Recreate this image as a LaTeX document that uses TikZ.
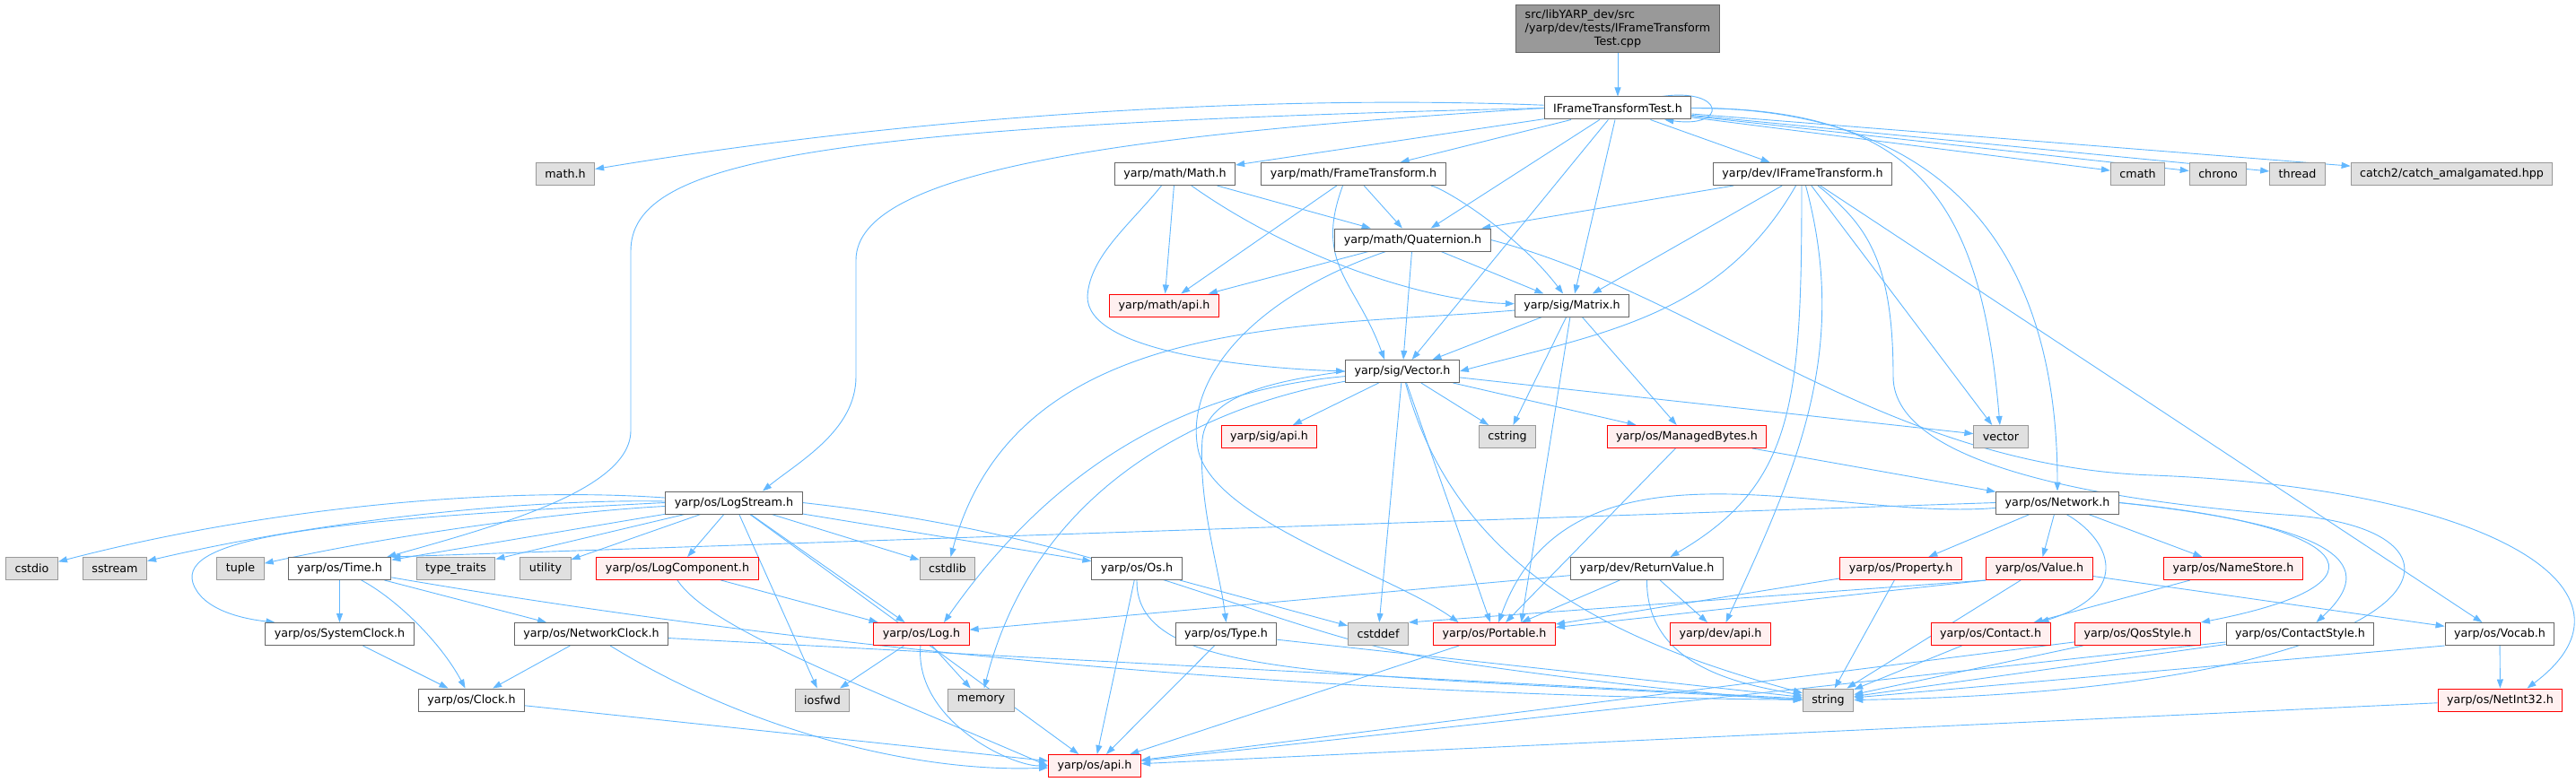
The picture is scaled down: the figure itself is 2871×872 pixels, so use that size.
\documentclass[tikz,border=0pt]{standalone}
\usepackage{fontspec}
\setmainfont{DejaVu Sans}
\usetikzlibrary{arrows.meta}
\pgfdeclarelayer{background}
\pgfsetlayers{background,main}
\definecolor{edgeblue}{HTML}{63B8FF}
\definecolor{redfill}{HTML}{FFF0F0}
\definecolor{sysfill}{HTML}{E0E0E0}
\definecolor{sysline}{HTML}{999999}
\definecolor{fileline}{HTML}{666666}
\definecolor{rootfill}{HTML}{999999}

\begin{document}
\begin{tikzpicture}[x=1pt,y=1pt,>={Triangle[length=10pt,width=7pt]},
    every node/.style={font=\fontsize{12.7}{15}\selectfont,minimum height=25pt,
      inner xsep=10pt,inner ysep=2pt,line width=1pt},
    file/.style={draw=fileline,fill=white},
    redfile/.style={draw=red,fill=redfill},
    sysfile/.style={draw=sysline,fill=sysfill},
    rootfile/.style={draw=fileline,fill=rootfill,inner ysep=4pt},
    dep/.style={draw=edgeblue,line width=0.9pt,->},
    every edge/.style={dep}]
  \useasboundingbox (0,0) rectangle (2871,-872);

  \node[rootfile] (src)     at (1803,-32.5)  {\begin{tabular}{@{}l@{}}src/libYARP\_dev/src\\/yarp/dev/tests/IFrameTransform\\\multicolumn{1}{@{}c@{}}{Test.cpp}\end{tabular}};
  \node[file]     (ift)     at (1803,-120.5) {IFrameTransformTest.h};
  \node[sysfile]  (mathh)   at (630,-194)    {math.h};
  \node[file]     (mmath)   at (1309.5,-194) {yarp/math/Math.h};
  \node[file]     (frame)   at (1508.5,-194) {yarp/math/FrameTransform.h};
  \node[file]     (dift)    at (2009,-194)   {yarp/dev/IFrameTransform.h};
  \node[sysfile]  (cmath)   at (2382.5,-194) {cmath};
  \node[sysfile]  (chrono)  at (2472,-194)   {chrono};
  \node[sysfile]  (thread)  at (2560.5,-194) {thread};
  \node[sysfile]  (catch)   at (2732.5,-194) {catch2/catch\_amalgamated.hpp};
  \node[file]     (quat)    at (1574.5,-267.5) {yarp/math/Quaternion.h};
  \node[redfile]  (mapi)    at (1297.5,-340.5) {yarp/math/api.h};
  \node[file]     (matrix)  at (1752,-340.5)   {yarp/sig/Matrix.h};
  \node[file]     (vec)     at (1563,-414)     {yarp/sig/Vector.h};
  \node[redfile]  (sapi)    at (1414.5,-487)   {yarp/sig/api.h};
  \node[sysfile]  (cstring) at (1680,-487)     {cstring};
  \node[redfile]  (mbytes)  at (1880,-487)     {yarp/os/ManagedBytes.h};
  \node[sysfile]  (vector)  at (2230,-487)     {vector};
  \node[file]     (logst)   at (818,-560.5)    {yarp/os/LogStream.h};
  \node[file]     (net)     at (2293,-560.5)   {yarp/os/Network.h};
  \node[sysfile]  (cstdio)  at (35.5,-634)     {cstdio};
  \node[sysfile]  (sstream) at (128,-634)      {sstream};
  \node[sysfile]  (tuple)   at (268,-634)      {tuple};
  \node[file]     (time)    at (378.5,-634)    {yarp/os/Time.h};
  \node[sysfile]  (ttraits) at (508,-634)      {type\_traits};
  \node[sysfile]  (utility) at (608,-634)      {utility};
  \node[redfile]  (logcomp) at (755,-634)      {yarp/os/LogComponent.h};
  \node[sysfile]  (cstdlib) at (1056,-634)     {cstdlib};
  \node[file]     (os)      at (1267,-634)     {yarp/os/Os.h};
  \node[file]     (retval)  at (1835.5,-634)   {yarp/dev/ReturnValue.h};
  \node[redfile]  (prop)    at (2118.5,-634)   {yarp/os/Property.h};
  \node[redfile]  (value)   at (2273,-634)     {yarp/os/Value.h};
  \node[redfile]  (names)   at (2489,-634)     {yarp/os/NameStore.h};
  \node[file]     (sysclk)  at (378.5,-707)    {yarp/os/SystemClock.h};
  \node[file]     (netclk)  at (659,-707)      {yarp/os/NetworkClock.h};
  \node[redfile]  (log)     at (1027,-707)     {yarp/os/Log.h};
  \node[file]     (type)    at (1366.5,-707)   {yarp/os/Type.h};
  \node[sysfile]  (cstddef) at (1536,-707)     {cstddef};
  \node[redfile]  (port)    at (1665.5,-707)   {yarp/os/Portable.h};
  \node[redfile]  (dapi)    at (1917.5,-707)   {yarp/dev/api.h};
  \node[redfile]  (contact) at (2218.5,-707)   {yarp/os/Contact.h};
  \node[redfile]  (qos)     at (2382.5,-707)   {yarp/os/QosStyle.h};
  \node[file]     (cstyle)  at (2563.5,-707)   {yarp/os/ContactStyle.h};
  \node[file]     (vocab)   at (2786,-707)     {yarp/os/Vocab.h};
  \node[file]     (clock)   at (525.5,-780.5)  {yarp/os/Clock.h};
  \node[sysfile]  (iosfwd)  at (916.5,-780.5)  {iosfwd};
  \node[sysfile]  (memory)  at (1093.5,-780.5) {memory};
  \node[sysfile]  (string)  at (2037.5,-780.5) {string};
  \node[redfile]  (netint)  at (2786.5,-780.5) {yarp/os/NetInt32.h};
  \node[redfile]  (api)     at (1220,-854)     {yarp/os/api.h};

  \begin{pgfonlayer}{background}
  % test header
  \path (src) edge (ift);
  \path ([xshift=-33pt]ift.north east) edge [out=8,in=-8,looseness=7] ([xshift=-30pt]ift.south east);
  \draw[dep] (ift) .. controls (1412,-105) and (1021,-129) .. (mathh);
  \path (ift) edge (mmath);
  \path (ift) edge (frame);
  \path (ift) edge (quat);
  \path (ift) edge (matrix);
  \path (ift) edge (vec);
  \path (ift) edge (dift);
  \path (ift) edge (cmath);
  \path (ift) edge (chrono);
  \path (ift) edge (thread);
  \path (ift) edge (catch);
  \draw[dep] (ift.east) .. controls (2138,-120) and (2208,-225) .. (vector);
  \draw[dep] (ift.east) .. controls (2169,-120) and (2293,-279) .. (net);
  \draw[dep] (ift.west) .. controls (900,-140) and (703,-180) .. (703,-280) -- (703,-480)
    .. controls (703,-545) and (560,-585) .. ([xshift=-5pt]time.north east);
  \draw[dep] (ift.west) .. controls (1250,-150) and (954,-190) .. (954,-290) -- (954,-420)
    .. controls (954,-480) and (890,-515) .. ([xshift=32pt]logst.north);
  % math
  \path (mmath) edge (mapi);
  \path (mmath) edge (quat);
  \draw[dep] (mmath) .. controls (1442,-288) and (1589,-336) .. (matrix);
  \draw[dep] ([xshift=-15pt]mmath.south) .. controls (1260,-250) and (1215,-285) .. (1212,-330)
    .. controls (1210,-390) and (1380,-410) .. (vec.west);
  \path (frame) edge (mapi);
  \path (frame) edge (quat);
  \draw[dep] (frame) .. controls (1608,-209) and (1690,-259) .. (matrix);
  \draw[dep] ([xshift=-12pt]frame.south) .. controls (1464,-295) and (1511,-313) .. ([xshift=-20pt]vec.north);
  % dev interface
  \path (dift) edge (quat);
  \path (dift) edge (matrix);
  \draw[dep] (dift) .. controls (1918,-352) and (1789,-371) .. (vec.east);
  \draw[dep] ([xshift=-1pt]dift.south) .. controls (2008,-450) and (2000,-540) .. ([xshift=26pt]retval.north);
  \draw[dep] (dift) .. controls (2062,-391) and (2003,-522) .. (dapi);
  \path (dift) edge (vector);
  \path (dift) edge (vocab);
  \draw[dep] ([xshift=17pt]dift.south) .. controls (2080,-250) and (2110,-290) .. (2110,-420)
    .. controls (2110,-520) and (2350,-560) .. (2560,-575)
    .. controls (2790,-595) and (2720,-770) .. (string.east);
  % quaternion
  \path (quat) edge (mapi);
  \path (quat) edge (vec);
  \path (quat) edge (matrix);
  \draw[dep] ([xshift=-30pt]quat.south) .. controls (1400,-330) and (1320,-420) .. (1335,-500)
    .. controls (1350,-580) and (1550,-640) .. ([xshift=-40pt]port.north);
  \draw[dep] (quat.east) .. controls (1900,-330) and (2100,-520) .. (2400,-530)
    .. controls (2780,-545) and (2960,-660) .. ([xshift=30pt]netint.north);
  % matrix and vector
  \draw[dep] (matrix) .. controls (1457,-366) and (1133,-348) .. (cstdlib);
  \path (matrix) edge (vec);
  \path (matrix) edge (cstring);
  \path (matrix) edge ([xshift=30pt]port.north);
  \path (matrix) edge (mbytes);
  \path (vec) edge (sapi);
  \path (vec) edge (cstring);
  \path (vec) edge (mbytes);
  \path (vec) edge (vector);
  \draw[dep] (vec) .. controls (1624,-640) and (1811,-719) .. (string);
  \path (vec) edge (cstddef);
  \path (vec) edge (port);
  \draw[dep] (vec.west) .. controls (1420,-425) and (1345,-440) .. (1340,-490)
    .. controls (1335,-560) and (1360,-640) .. (type.north);
  \draw[dep] (vec) .. controls (1336,-434) and (1183,-507) .. ([xshift=25pt]log.north);
  \draw[dep] (vec) .. controls (1336,-454) and (1153,-546) .. (memory);
  \path (mbytes) edge (port);
  \path (mbytes) edge (net);
  % network
  \path (net.west) edge (time.north east);
  \draw[dep] (net) .. controls (2042,-582) and (1751,-470) .. (port);
  \path (net) edge (prop);
  \path (net) edge (value);
  \path (net) edge (names);
  \draw[dep] ([xshift=10pt]net.south) .. controls (2350,-600) and (2380,-660) .. ([xshift=55pt]contact.north);
  \draw[dep] (net.east) .. controls (2620,-585) and (2680,-650) .. (qos.north east);
  \draw[dep] (net.east) .. controls (2640,-590) and (2640,-640) .. ([xshift=18pt]cstyle.north);
  % log stream
  \draw[dep] (logst) .. controls (557,-542) and (296,-566) .. (cstdio);
  \draw[dep] (logst) .. controls (588,-556) and (358,-580) .. (sstream);
  \draw[dep] (logst) .. controls (635,-570) and (451,-594) .. (tuple);
  \path (logst) edge (time);
  \path (logst) edge (ttraits);
  \path (logst) edge (utility);
  \path (logst) edge (logcomp);
  \draw[dep] (logst.west) .. controls (350,-580) and (200,-600) .. (215,-650)
    .. controls (225,-680) and (270,-690) .. ([xshift=-72pt]sysclk.north);
  \path (logst) edge (iosfwd);
  \path (logst) edge (log);
  \path (logst) edge (api);
  \path (logst) edge (cstdlib);
  \path (logst) edge (os);
  \draw[dep] (logst.east) .. controls (1250,-600) and (1400,-700) .. (1600,-735)
    .. controls (1800,-765) and (1950,-778) .. (string.west);
  % time and clocks
  \path (time) edge (sysclk);
  \path (time) edge (netclk);
  \draw[dep] (time) .. controls (442,-668) and (491,-716) .. (clock);
  \draw[dep] (time) .. controls (927,-728) and (1480,-776) .. (string);
  \path (sysclk) edge (clock);
  \path (netclk) edge (clock);
  \draw[dep] (netclk) .. controls (831,-813) and (1018,-862) .. (api);
  \path (netclk) edge (string);
  \path (clock) edge (api);
  % the rest
  \path (logcomp) edge (log);
  \draw[dep] (logcomp.south) .. controls (790,-700) and (950,-760) .. (api.west);
  \path (log) edge (iosfwd);
  \path (log) edge (memory);
  \draw[dep] (log) .. controls (1019,-802) and (1125,-854) .. (api);
  \path (os) edge (api);
  \path (os) edge (cstddef);
  \draw[dep] (os.south) .. controls (1265,-760) and (1500,-750) .. (string.west);
  \path (type) edge (api);
  \path (type) edge (string);
  \path (retval) edge (log);
  \path (retval) edge (port);
  \path (retval) edge (dapi);
  \draw[dep] (retval) .. controls (1835,-744) and (1941,-763) .. (string);
  \path (port) edge (api);
  \path (prop) edge (port);
  \path (prop) edge (string);
  \path (value.south west) edge (cstddef.north east);
  \path (value.south west) edge (port);
  \path (value) edge (string);
  \path (value) edge (vocab);
  \path (names) edge (contact);
  \path (contact) edge (string);
  \path (qos) edge (string);
  \path (qos) edge (api);
  \path (cstyle) edge (string);
  \path (cstyle) edge (api);
  \path (vocab.south west) edge (string);
  \path (vocab) edge (netint);
  \path (netint) edge (api);
  \end{pgfonlayer}
\end{tikzpicture}
\end{document}
